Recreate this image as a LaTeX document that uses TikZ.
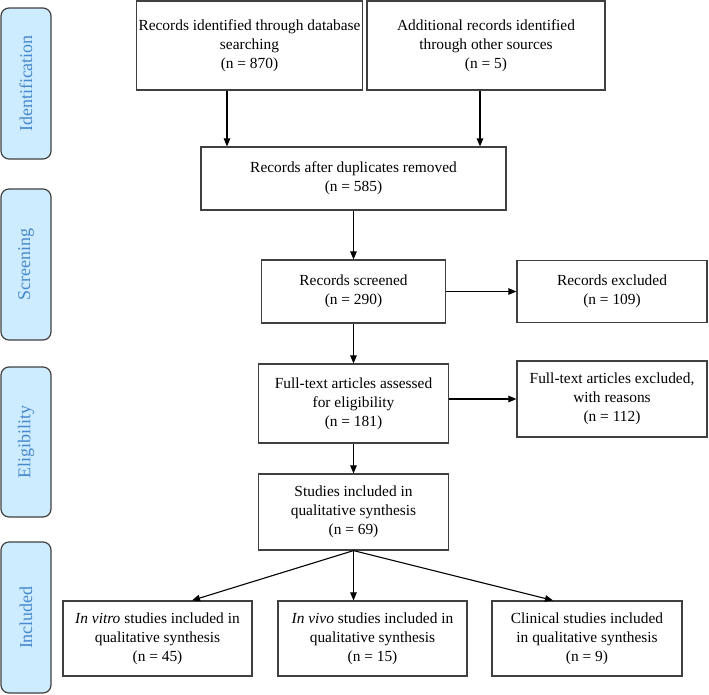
\documentclass[tikz,border=0pt]{standalone}
\usepackage{fontspec}
\setmainfont{Liberation Serif}
\usetikzlibrary{arrows.meta}
\definecolor{sidefill}{RGB}{206,236,255}
\definecolor{sidetext}{RGB}{72,136,206}
\definecolor{boxline}{RGB}{64,64,64}
\begin{document}
\begin{tikzpicture}[x=1pt, y=1pt, >={Triangle[length=8pt,width=6.5pt]},
  main node/.style={rectangle, draw=boxline, line width=1.2pt, align=center, inner sep=2pt, font=\fontsize{15.4}{18.8}\selectfont},
  side node/.style={rectangle, rounded corners=8pt, draw=boxline, line width=1.2pt, fill=sidefill, text=sidetext, rotate=90, minimum height=50pt, font=\fontsize{18}{20}\selectfont}]
\useasboundingbox (0,0) rectangle (709,-694);
% phases on the left
\node[side node, minimum width=151pt] (ident) at (26,-83.5) {Identification};
\node[side node, minimum width=151pt] (screen) at (26,-264.5) {Screening};
\node[side node, minimum width=150pt] (elig) at (26,-442) {Eligibility};
\node[side node, minimum width=151pt] (inclu) at (26,-617.5) {Included};
% boxes
\node[main node, minimum width=219pt, minimum height=89pt] (db) at (249.5,-45.5) {Records identified through database\\searching\\(n = 870)};
\node[main node, minimum width=238pt, minimum height=89pt] (oth) at (486,-45.5) {Additional records identified\\through other sources\\(n = 5)};
\node[main node, minimum width=305pt, minimum height=63pt] (dup) at (353.5,-178.5) {Records after duplicates removed\\(n = 585)};
\node[main node, minimum width=184pt, minimum height=63pt] (scr) at (353.5,-291.5) {Records screened\\(n = 290)};
\node[main node, minimum width=190pt, minimum height=62pt] (exc) at (612,-291.5) {Records excluded\\(n = 109)};
\node[main node, minimum width=190pt, minimum height=79pt] (full) at (353.5,-403.5) {Full-text articles assessed\\for eligibility\\(n = 181)};
\node[main node, minimum width=190pt, minimum height=76pt] (exfull) at (612,-399) {Full-text articles excluded,\\with reasons\\(n = 112)};
\node[main node, minimum width=190pt, minimum height=76pt] (incl) at (353.5,-512) {Studies included in\\qualitative synthesis\\(n = 69)};
\node[main node, minimum width=189pt, minimum height=75pt] (vitro) at (157.5,-638.5) {\textit{In vitro} studies included in\\qualitative synthesis\\(n = 45)};
\node[main node, minimum width=189pt, minimum height=75pt] (vivo) at (372.5,-638.5) {\textit{In vivo} studies included in\\qualitative synthesis\\(n = 15)};
\node[main node, minimum width=190pt, minimum height=75pt] (clin) at (587,-638.5) {Clinical studies included\\in qualitative synthesis\\(n = 9)};
% arrows
\begin{scope}[line width=1.1pt]
\draw[->] ([xshift=-22.5pt]db.south) -- ([xshift=-22.5pt]db.south |- dup.north);
\draw[->] ([xshift=-6pt]oth.south) -- ([xshift=-6pt]oth.south |- dup.north);
\draw[->] (dup) -- (scr);
\draw[->] (scr) -- (exc);
\draw[->] (scr) -- (full);
\draw[->] (exfull.west -| full.east) -- (exfull.west);
\draw[->] (full) -- (incl);
\draw[->] (incl.south) -- ([xshift=34.5pt]vitro.north);
\draw[->] (incl.south) -- (incl.south |- vivo.north);
\draw[->] (incl.south) -- ([xshift=-34pt]clin.north);
\end{scope}
\end{tikzpicture}
\end{document}
